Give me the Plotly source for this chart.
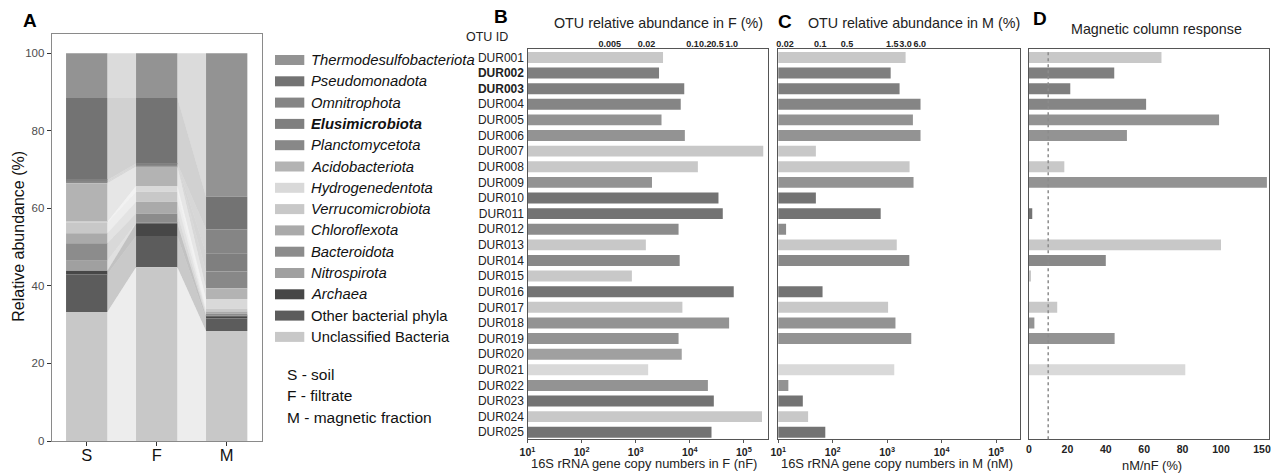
import numpy as np
import plotly.graph_objects as go

W, H = 1276, 473


def px(x):
    return x / W


def py(y):
    return 1 - y / H


FONT = "Liberation Sans, Arial, sans-serif"

# ---------------- Panel A data ----------------
stages = ["S", "F", "M"]
phyla = ["Thermodesulfobacteriota", "Pseudomonadota", "Omnitrophota", "Elusimicrobiota",
         "Planctomycetota", "Acidobacteriota", "Hydrogenedentota", "Verrucomicrobiota",
         "Chloroflexota", "Bacteroidota", "Nitrospirota", "Archaea",
         "Other bacterial phyla", "Unclassified Bacteria"]
phyla_colors = ["#939393", "#737373", "#858585", "#7f7f7f", "#888888", "#b3b3b3", "#d9d9d9",
                "#c8c8c8", "#aaaaaa", "#8c8c8c", "#a0a0a0", "#474747", "#5c5c5c", "#c8c8c8"]
abund_S = [11.5, 21.2, 0.2, 0.2, 0.4, 10.0, 0.2, 2.7, 2.6, 4.5, 2.6, 0.9, 9.7, 33.3]
abund_F = [11.5, 16.9, 0.2, 0.2, 0.4, 5.0, 1.5, 2.6, 3.0, 2.5, 0.1, 3.2, 8.1, 44.8]
abund_M = [37.0, 8.4, 6.2, 4.7, 4.3, 2.8, 2.4, 0.8, 0.6, 0.5, 0.1, 0.6, 3.2, 28.4]
stage_notes = ["S - soil", "F - filtrate", "M - magnetic fraction"]

# ---------------- Panels B-D data ----------------
otu_ids = ["DUR001", "DUR002", "DUR003", "DUR004", "DUR005", "DUR006", "DUR007", "DUR008",
           "DUR009", "DUR010", "DUR011", "DUR012", "DUR013", "DUR014", "DUR015", "DUR016",
           "DUR017", "DUR018", "DUR019", "DUR020", "DUR021", "DUR022", "DUR023", "DUR024",
           "DUR025"]
bold_otus = ["DUR002", "DUR003"]
otu_phylum = ["Unclassified Bacteria", "Elusimicrobiota", "Elusimicrobiota", "Omnitrophota",
              "Thermodesulfobacteriota", "Thermodesulfobacteriota", "Unclassified Bacteria",
              "Verrucomicrobiota", "Thermodesulfobacteriota", "Pseudomonadota", "Pseudomonadota",
              "Bacteroidota", "Unclassified Bacteria", "Planctomycetota", "Unclassified Bacteria",
              "Pseudomonadota", "Unclassified Bacteria", "Thermodesulfobacteriota",
              "Thermodesulfobacteriota", "Nitrospirota", "Hydrogenedentota",
              "Thermodesulfobacteriota", "Pseudomonadota", "Unclassified Bacteria",
              "Pseudomonadota"]
copies_F = [3200, 2700, 7900, 6800, 3000, 8100, 228000, 14100, 2000, 33900, 40700, 6200,
            1540, 6500, 850, 64900, 7300, 53300, 6200, 7100, 1700, 21600, 27800, 216000, 25200]
copies_M = [2180, 1160, 1690, 4100, 2970, 4100, 49, 2580, 3050, 49, 760, 13.9,
            1500, 2550, None, 65, 1040, 1420, 2770, None, 1350, 15.3, 28.2, 35.3, 73]
response_pct = [69, 44.4, 21.5, 61, 99, 51, None, 18.4, 156, None, 1.7, None,
                100, 40, 0.7, None, 14.7, 2.8, 44.6, None, 81.4, None, None, None, None]
response_threshold = 10

copy_ticks = [10, 100, 1000, 10000, 100000]
copy_tick_exp = [1, 2, 3, 4, 5]
topF_labels = ["0.005", "0.02", "0.1", "0.2", "0.5", "1.0"]
topF_at_copies = [333, 1580, 11200, 19300, 32500, 59600]
topM_labels = ["0.02", "0.1", "0.5", "1.5", "3.0", "6.0"]
topM_at_copies = [13.3, 58.9, 183, 1236, 2176, 3946]
resp_ticks = [0, 20, 40, 60, 80, 100, 150]


def compress(v):
    # response axis is compressed above 100 %
    if v is None:
        return None
    return v if v <= 100 else 100 + (v - 100) * 0.427


color_of = dict(zip(phyla, phyla_colors))
otu_colors = [color_of[p] for p in otu_phylum]

fig = go.Figure()

# ---------------- Panel A ----------------
xpos = np.arange(len(stages))
bar_w = 0.59
vals = np.array([abund_S, abund_F, abund_M])  # stage x phylum
tops = np.cumsum(vals[:, ::-1], axis=1)[:, ::-1]
bottoms = tops - vals


def rgba(hexc, a):
    h = hexc.lstrip("#")
    r, g, b = int(h[0:2], 16), int(h[2:4], 16), int(h[4:6], 16)
    return f"rgba({r},{g},{b},{a})"


for s in range(len(stages) - 1):
    x0 = xpos[s] + bar_w / 2
    x1 = xpos[s + 1] - bar_w / 2
    for i, p in enumerate(phyla):
        fig.add_trace(go.Scatter(
            x=[x0, x0, x1, x1, x0],
            y=[bottoms[s, i], tops[s, i], tops[s + 1, i], bottoms[s + 1, i], bottoms[s, i]],
            mode="lines", fill="toself", line=dict(width=0),
            fillcolor=rgba(phyla_colors[i], 0.33), hoverinfo="skip",
            showlegend=False, xaxis="x", yaxis="y"))

for i, p in enumerate(phyla):
    fig.add_trace(go.Bar(
        x=xpos, y=vals[:, i], base=bottoms[:, i], width=bar_w,
        marker=dict(color=phyla_colors[i], line=dict(width=0)),
        name=p, showlegend=False, xaxis="x", yaxis="y"))

# ---------------- Panel B ----------------
fig.add_trace(go.Bar(orientation="h", x=copies_F, y=otu_ids, width=0.7,
                     marker=dict(color=otu_colors, line=dict(width=0)),
                     showlegend=False, xaxis="x2", yaxis="y2"))
fig.add_trace(go.Scatter(x=[], y=[], xaxis="x5", yaxis="y2", showlegend=False))

# ---------------- Panel C ----------------
fig.add_trace(go.Bar(orientation="h", x=copies_M, y=otu_ids, width=0.7,
                     marker=dict(color=otu_colors, line=dict(width=0)),
                     showlegend=False, xaxis="x3", yaxis="y3"))
fig.add_trace(go.Scatter(x=[], y=[], xaxis="x6", yaxis="y3", showlegend=False))

# ---------------- Panel D ----------------
fig.add_trace(go.Bar(orientation="h", x=[compress(v) for v in response_pct], y=otu_ids,
                     width=0.7, marker=dict(color=otu_colors, line=dict(width=0)),
                     showlegend=False, xaxis="x4", yaxis="y4"))

# ---------------- axes ----------------
ydom = [py(439.3), py(49.3)]
cat_range = [24.45, -0.52]
frame = dict(showline=True, mirror=True, linecolor="#555555", linewidth=1.3,
             showgrid=False, zeroline=False, automargin=False)
log_range = [1, 5.44]

copy_ticktext = [f"<b>10<sup>{e}</sup></b>" for e in copy_tick_exp]
otu_ticktext = [f"<b>{o}</b>" if o in bold_otus else o for o in otu_ids]

fig.update_layout(
    xaxis=dict(domain=[px(51.7), px(261.7)], range=[-0.5, 2.5], tickmode="array",
               tickvals=list(xpos), ticktext=stages, ticks="outside", ticklen=4,
               tickcolor="#333333", showline=True, mirror=True, linecolor="#8a8a8a",
               linewidth=1, showgrid=False, zeroline=False, anchor="y", automargin=False,
               ticklabelstandoff=-5,
               tickfont=dict(size=16.5, color="#111111", family=FONT)),
    yaxis=dict(domain=[py(441), py(34.3)], range=[0, 104.9], tickmode="array",
               tickvals=[0, 20, 40, 60, 80, 100], ticks="outside", ticklen=4,
               tickcolor="#333333", showline=True, mirror=True, linecolor="#8a8a8a",
               linewidth=1, showgrid=False, zeroline=False, anchor="x", automargin=False,
               tickfont=dict(size=11.5, color="#4d4d4d", family=FONT)),
    xaxis2=dict(domain=[px(527.5), px(767.7)], type="log", range=log_range, anchor="y2",
                tickmode="array", tickvals=copy_ticks, ticktext=copy_ticktext,
                ticks="outside", ticklen=3, tickcolor="#555555", tickangle=0,
                tickfont=dict(size=10.5, color="#222222", family=FONT), **frame),
    yaxis2=dict(domain=ydom, type="category", categoryorder="array", categoryarray=otu_ids,
                range=cat_range, autorange=False, anchor="x2", tickmode="array",
                tickvals=otu_ids, ticktext=otu_ticktext, ticks="",
                tickfont=dict(size=12, color="#222222", family=FONT), **frame),
    xaxis5=dict(overlaying="x2", side="top", type="log", range=log_range, anchor="y2",
                tickmode="array", tickvals=topF_at_copies, tickangle=0,
                ticktext=[f"<b>{t}</b>" for t in topF_labels], ticks="",
                showgrid=False, zeroline=False, showline=False, automargin=False,
                tickfont=dict(size=9, color="#222222", family=FONT)),
    xaxis3=dict(domain=[px(778.3), px(1020)], type="log", range=log_range, anchor="y3",
                tickmode="array", tickvals=copy_ticks, ticktext=copy_ticktext,
                ticks="outside", ticklen=3, tickcolor="#555555", tickangle=0,
                tickfont=dict(size=10.5, color="#222222", family=FONT), **frame),
    yaxis3=dict(domain=ydom, type="category", categoryorder="array", categoryarray=otu_ids,
                range=cat_range, autorange=False, anchor="x3", showticklabels=False,
                ticks="", **frame),
    xaxis6=dict(overlaying="x3", side="top", type="log", range=log_range, anchor="y3",
                tickmode="array", tickvals=topM_at_copies, tickangle=0,
                ticktext=[f"<b>{t}</b>" for t in topM_labels], ticks="",
                showgrid=False, zeroline=False, showline=False, automargin=False,
                tickfont=dict(size=9, color="#222222", family=FONT)),
    xaxis4=dict(domain=[px(1029), px(1269)], range=[0, 125], anchor="y4", tickmode="array",
                tickvals=[compress(t) for t in resp_ticks], tickangle=0,
                ticktext=[f"<b>{t}</b>" for t in resp_ticks], ticks="",
                tickfont=dict(size=10.5, color="#222222", family=FONT), **frame),
    yaxis4=dict(domain=ydom, type="category", categoryorder="array", categoryarray=otu_ids,
                range=cat_range, autorange=False, anchor="x4", showticklabels=False,
                ticks="", **frame),
)

shapes = [dict(type="line", xref="x4", yref="y4 domain", x0=response_threshold,
               x1=response_threshold, y0=0, y1=1,
               line=dict(color="#8c8c8c", width=1.5, dash="dot"))]

annotations = []


def ann(text, x, y, size, color="#111111", xanchor="center", angle=0, bold=False):
    annotations.append(dict(text=f"<b>{text}</b>" if bold else text, x=px(x), y=py(y),
                            xref="paper", yref="paper", showarrow=False, xanchor=xanchor,
                            yanchor="middle", textangle=angle,
                            font=dict(size=size, color=color, family=FONT)))


# panel letters
ann("A", 29.7, 20, 19, "#000000", bold=True)
ann("B", 501, 17, 19, "#000000", bold=True)
ann("C", 785, 21.5, 19, "#000000", bold=True)
ann("D", 1039.5, 18.5, 19, "#000000", bold=True)
# titles
ann("Relative abundance (%)", 17.7, 236, 16, "#111111", angle=-90)
ann("OTU relative abundance in F (%)", 659, 23.3, 14.3, "#222222")
ann("OTU relative abundance in M (%)", 914, 22.7, 14.3, "#222222")
ann("Magnetic column response", 1156, 29.3, 14.3, "#222222")
ann("OTU ID", 487, 37, 12.5, "#222222")
ann("16S rRNA gene copy numbers in F (nF)", 644, 463.3, 12.9, "#222222")
ann("16S rRNA gene copy numbers in M (nM)", 896.7, 463.3, 12.9, "#222222")
ann("nM/nF (%)", 1151.7, 465, 12.9, "#222222")

# manual legend for panel A
plain = {"Other bacterial phyla", "Unclassified Bacteria"}
for i, p in enumerate(phyla):
    yc = 60 + i * 21.3
    shapes.append(dict(type="rect", xref="paper", yref="paper", x0=px(275), x1=px(304.3),
                       y0=py(yc + 5), y1=py(yc - 5), line=dict(width=0),
                       fillcolor=phyla_colors[i]))
    if p in plain:
        label = p
    elif p == "Elusimicrobiota":
        label = f"<b><i>{p}</i></b>"
    else:
        label = f"<i>{p}</i>"
    ann(label, 308.5, yc, 14.8, "#111111", xanchor="left")

for k, note in enumerate(stage_notes):
    ann(note, 285, 374 + k * 21.5, 15.5, "#111111", xanchor="left")

fig.update_layout(
    width=W, height=H, autosize=False, margin=dict(l=0, r=0, t=0, b=0, pad=0),
    paper_bgcolor="white", plot_bgcolor="white", showlegend=False, barmode="overlay",
    shapes=shapes, annotations=annotations, font=dict(family=FONT),
)

fig.write_html("out.html", config={"displayModeBar": False},
               post_script="document.body.style.margin='0';document.body.style.overflow='hidden';")
